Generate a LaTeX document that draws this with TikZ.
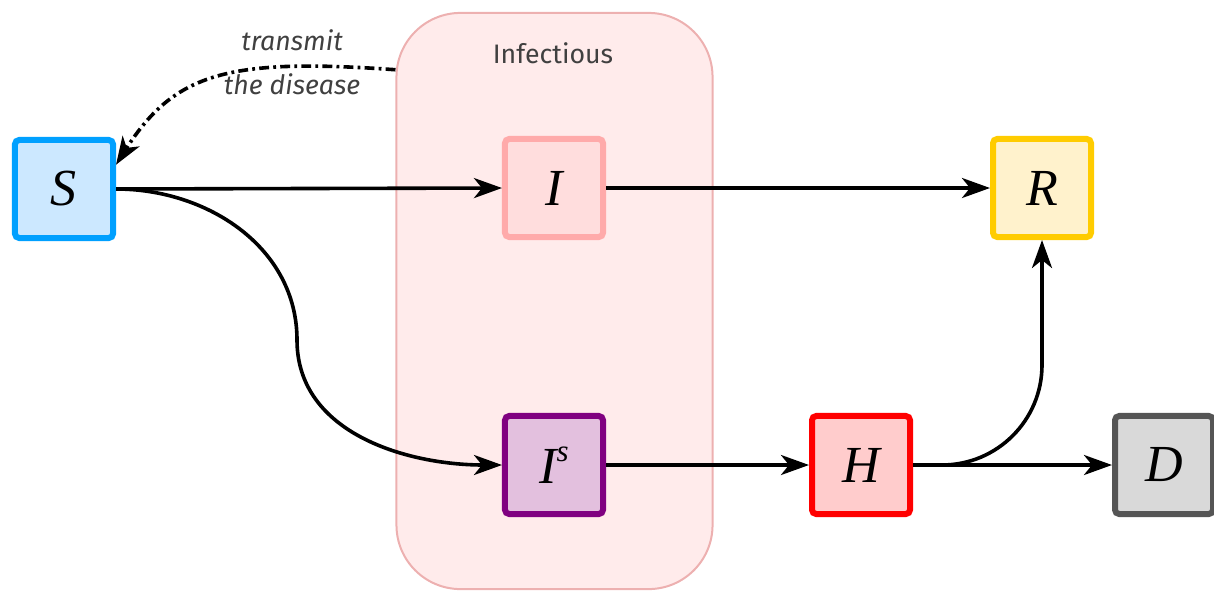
\documentclass[tikz,border=0pt]{standalone}
\usepackage{fontspec}
\newfontfamily\labelfont{Fira Sans}
\newfontfamily\letterfont{Liberation Serif}
\usepackage{tikz}
\usetikzlibrary{arrows.meta, positioning, calc}
\definecolor{sLine}{HTML}{00A0FF}
\definecolor{sFill}{HTML}{CCE8FF}
\definecolor{iLine}{HTML}{FFAAAA}
\definecolor{iFill}{HTML}{FFDDDD}
\definecolor{rLine}{HTML}{FFCC00}
\definecolor{rFill}{HTML}{FFF2CC}
\definecolor{isLine}{HTML}{800080}
\definecolor{isFill}{HTML}{E3C0DE}
\definecolor{hLine}{HTML}{FF0000}
\definecolor{hFill}{HTML}{FFCCCC}
\definecolor{dLine}{HTML}{555555}
\definecolor{dFill}{HTML}{D9D9D9}
\definecolor{grpLine}{HTML}{EDB0B0}
\definecolor{grpFill}{HTML}{FFEBEB}
\definecolor{noteText}{HTML}{404040}
\tikzset{
  compartment/.style={rectangle, rounded corners=3pt, minimum size=2.45cm, inner sep=0pt,
                      line width=0.15cm, text centered, font=\letterfont\itshape\fontsize{37}{40}\selectfont},
  susceptible/.style={compartment, draw=sLine, fill=sFill},
  infected/.style={compartment, draw=iLine, fill=iFill},
  recovered/.style={compartment, draw=rLine, fill=rFill},
  symptomatic/.style={compartment, draw=isLine, fill=isFill},
  hospital/.style={compartment, draw=hLine, fill=hFill},
  dead/.style={compartment, draw=dLine, fill=dFill},
  group/.style={rectangle, rounded corners=1.6cm, minimum width=7.9cm, minimum height=14.4cm,
                line width=0.05cm, draw=grpLine, fill=grpFill},
  note/.style={text=noteText, font=\labelfont\fontsize{19}{22}\selectfont},
  arrow/.style={line width=0.09cm, -{Stealth[length=0.7cm, width=0.5cm, inset=0.2cm]}},
  spread/.style={arrow, dash pattern=on 7pt off 3pt on 2pt off 3pt}
}
\begin{document}
\begin{tikzpicture}[x=0.025cm, y=-0.025cm]
\useasboundingbox (0,0) rectangle (1214,592);

% Nodes
\node (infectious) [group] at (554.5,301) {};
\node (infLabel) [note] at (553,53) {Infectious};

\node (S) [susceptible] at (64,189) {S};
\node (I) [infected] at (554,188) {I};
\node (R) [recovered] at (1042,188) {R};
\node (Is) [symptomatic] at (554,465) {I\raisebox{0.42em}{\fontsize{22}{22}\selectfont s}};
\node (H) [hospital] at (861,465) {H};
\node (D) [dead] at (1164,465) {D};

\node (transmit) [note, font=\labelfont\itshape\fontsize{19}{22}\selectfont] at (292,40) {transmit};
\node (disease) [note, font=\labelfont\itshape\fontsize{19}{22}\selectfont] at (292,84) {the disease};

\coordinate (spreadStart) at ($(infectious.north west)!0.1!(infectious.south west)$);
\coordinate (bend) at (297,340);

% Arrows
\draw [arrow] (S.east) -- (I.west);
\draw [arrow] (I.east) -- (R.west);
\draw [arrow] (S.east) to[out=0, in=90] (bend) to[out=-90, in=180] (Is.west);
\draw [arrow] (Is.east) -- (H.west);
\draw [arrow] (H.east) -- (D.west);
\draw [arrow, rounded corners=2.5cm] (H.east) -| (R.south);

\draw [spread] (spreadStart) .. controls (230,58) and (175,72) .. (S.25);
\end{tikzpicture}
\end{document}
